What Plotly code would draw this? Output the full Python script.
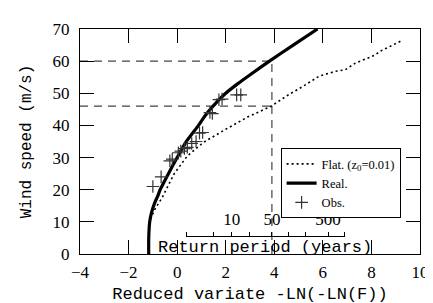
import math
import plotly.graph_objects as go

# ---- data ----
real_x = [-1.17, -1.17, -1.13, -1.05, -0.92, -0.80, -0.70, -0.36, 0.0, 0.38, 0.88, 1.15, 1.48, 2.0, 2.5, 3.05, 3.8, 4.78, 5.78]
real_y = [0, 5, 10, 13, 16, 18, 20, 25, 30, 35, 40, 43, 46, 50, 53, 56, 60, 65, 70]

flat_x = [-1.17, -1.15, -1.08, -0.95, -0.62, -0.12, 0.42, 1.1, 2.0, 2.9, 3.85, 4.64, 5.17, 5.84, 6.5, 6.92, 7.32, 8.12, 8.39, 9.2]
flat_y = [0, 8, 11, 13.5, 17.5, 25, 30.5, 34.8, 38.8, 42.6, 45.9, 49.8, 52.1, 55.3, 56.8, 57.3, 59.3, 61.8, 63.2, 66.2]

obs_x = [-1.00, -0.66, -0.30, -0.20, 0.05, 0.15, 0.30, 0.42, 0.60, 0.78, 0.92, 1.05, 1.35, 1.45, 1.72, 1.85, 2.45, 2.62]
obs_y = [21.0, 24.0, 29.0, 29.5, 31.5, 32.0, 32.8, 33.2, 34.4, 35.0, 37.6, 37.8, 44.0, 43.7, 48.0, 48.2, 49.5, 49.5]

return_periods = [2, 5, 10, 20, 50, 100, 200, 500, 1000]
return_labels = ["", "", "10", "", "50", "", "", "500", ""]

design_T = 50
design_real = 60
design_flat = 46

x_ticks = [-4, -2, 0, 2, 4, 6, 8, 10]
y_ticks = [0, 10, 20, 30, 40, 50, 60, 70]


def reduced_variate(T):
    return -math.log(-math.log(1.0 - 1.0 / T))


rp_vals = [reduced_variate(T) for T in return_periods]
x_lo, x_hi = -4, 10

serif = "Liberation Serif, Times New Roman, serif"
mono = "Liberation Mono, Courier New, monospace"

fig = go.Figure()
fig.add_trace(go.Scatter(x=flat_x, y=flat_y, mode="lines", name="Flat. (z<sub>0</sub>=0.01)",
                         line=dict(color="black", width=1.6, dash="2px,3px")))
fig.add_trace(go.Scatter(x=real_x, y=real_y, mode="lines", name="Real.",
                         line=dict(color="black", width=3.2, shape="spline", smoothing=0.6)))
fig.add_trace(go.Scatter(x=obs_x, y=obs_y, mode="markers", name="Obs.",
                         marker=dict(symbol="cross-thin", size=9, color="black",
                                     line=dict(color="#333", width=1.2))))
# invisible trace so the return-period axis exists
fig.add_trace(go.Scatter(x=[], y=[], xaxis="x2", yaxis="y", showlegend=False, hoverinfo="skip"))

xd = reduced_variate(design_T)
dash_line = dict(color="#444", width=1.2, dash="8px,6px")
fig.add_shape(type="line", x0=x_lo, x1=xd, y0=design_real, y1=design_real, line=dash_line, layer="below")
fig.add_shape(type="line", x0=x_lo, x1=xd, y0=design_flat, y1=design_flat, line=dash_line, layer="below")
fig.add_shape(type="line", x0=xd, x1=xd, y0=0, y1=design_real, line=dash_line, layer="below")

rp_pos = 0.081
fig.add_annotation(x=(rp_vals[0] + rp_vals[-1]) / 2, y=rp_pos, xref="x", yref="paper",
                   text="Return period (years)", showarrow=False, yanchor="top",
                   font=dict(family=mono, size=17, color="black"))

axis_common = dict(showline=True, linecolor="black", linewidth=1.2, mirror="ticks",
                   ticks="inside", ticklen=14, tickcolor="black", tickwidth=1.2,
                   showgrid=False, zeroline=False,
                   tickfont=dict(family=serif, size=17, color="black"))

fig.update_layout(
    width=433, height=303,
    margin=dict(l=72, r=13, t=19, b=49),
    paper_bgcolor="white", plot_bgcolor="rgba(0,0,0,0)",
    showlegend=True,
    legend=dict(x=0.59, y=0.47, xanchor="left", yanchor="top",
                bordercolor="black", borderwidth=1, bgcolor="white",
                font=dict(family=serif, size=12.5, color="black"),
                tracegroupgap=0, itemwidth=30),
    xaxis=dict(range=[x_lo, x_hi], tickvals=x_ticks, ticklabelstandoff=2,
               title=dict(text="Reduced variate -LN(-LN(F))", standoff=6,
                          font=dict(family=mono, size=17, color="black")),
               **axis_common),
    yaxis=dict(range=[0, 70], tickvals=y_ticks, ticklabelstandoff=6,
               title=dict(text="Wind speed (m/s)", standoff=16,
                          font=dict(family=mono, size=16, color="black")),
               **axis_common),
    xaxis2=dict(domain=[(rp_vals[0] - x_lo) / (x_hi - x_lo), (rp_vals[-1] - x_lo) / (x_hi - x_lo)],
                range=[rp_vals[0], rp_vals[-1]], anchor="free", position=rp_pos, side="top",
                tickvals=rp_vals, ticktext=return_labels, ticks="outside", ticklen=4,
                tickcolor="black", showline=True, linecolor="black", linewidth=1,
                showgrid=False, zeroline=False,
                tickfont=dict(family=serif, size=17, color="black")),
)

fig.write_html("out.html")
